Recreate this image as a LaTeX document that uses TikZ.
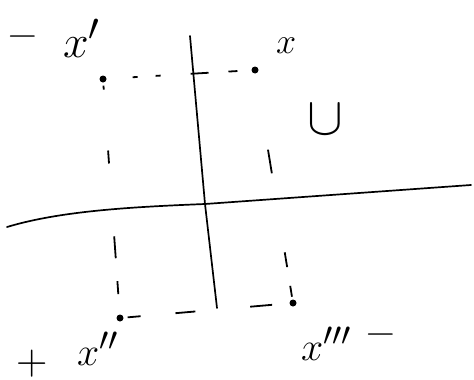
\documentclass[tikz,border=0pt]{standalone}
\usepackage{graphicx}
\usepackage{tikz}
\usetikzlibrary{positioning}

\newcommand{\hand}[2]{\scalebox{#1}{\Huge #2}}

\begin{document}
\begin{tikzpicture}[
        x=1pt, y=-1pt,
        axis/.style={line width=1.7pt, line cap=round},
        guide/.style={line width=1.8pt},
        pt/.style={circle, fill, inner sep=0pt, minimum size=7pt},
        lbl/.style={inner sep=0pt}
    ]
    \useasboundingbox (0,0) rectangle (474,380);

    % axes
    \coordinate (vtop) at (190,36);
    \coordinate (o) at (205,204);
    \coordinate (vbot) at (217,308);
    \coordinate (hl) at (7,227);
    \coordinate (hr) at (471,185);
    \draw[axis] (vtop) -- (o) -- (vbot);
    \draw[axis] (hl) .. controls (60,211) and (130,207) .. (o) -- (hr);

    % the four points
    \node[pt] (xp) at (103,79) {};
    \node[pt] (x) at (255,70) {};
    \node[pt] (xpp) at (120,318) {};
    \node[pt] (xppp) at (293,303) {};

    \node[lbl] (mA) at (23,41) {\hand{1.6}{−}};
    \node[lbl, anchor=base west] (xpL) at (63,57) {\hand{1.85}{$x'$}};
    \node[lbl, anchor=base west] (xL) at (276,53) {\hand{1.45}{$x$}};
    \node[lbl] (u) at (325,120) {\hand{2.15}{$\cup$}};
    \node[lbl] (pB) at (32,364) {\hand{1.75}{+}};
    \node[lbl, anchor=base west] (xppL) at (77,365) {\hand{1.6}{$x''$}};
    \node[lbl, anchor=base west] (xpppL) at (301,360) {\hand{1.6}{$x'''$}};
    \node[lbl] (mB) at (381,339) {\hand{1.6}{−}};

    % hand-drawn dashes
    \draw[guide, dash pattern=on 0pt off 26pt on 5pt off 18pt on 5pt off 30pt on 18pt off 20pt on 9pt off 100pt] (xp) -- (x);
    \draw[guide, dash pattern=on 0pt off 3pt on 4pt off 61pt on 13pt off 73pt on 22pt off 23pt on 13pt off 100pt] (xp) -- (xpp);
    \draw[guide, dash pattern=on 0pt off 77pt on 24pt off 80pt on 15pt off 19pt on 11pt off 100pt] (x) -- (xppp);
    \draw[guide, dash pattern=on 0pt off 4pt on 13pt off 35pt on 20pt off 55pt on 22pt off 100pt] (xpp) -- (xppp);
\end{tikzpicture}
\end{document}
